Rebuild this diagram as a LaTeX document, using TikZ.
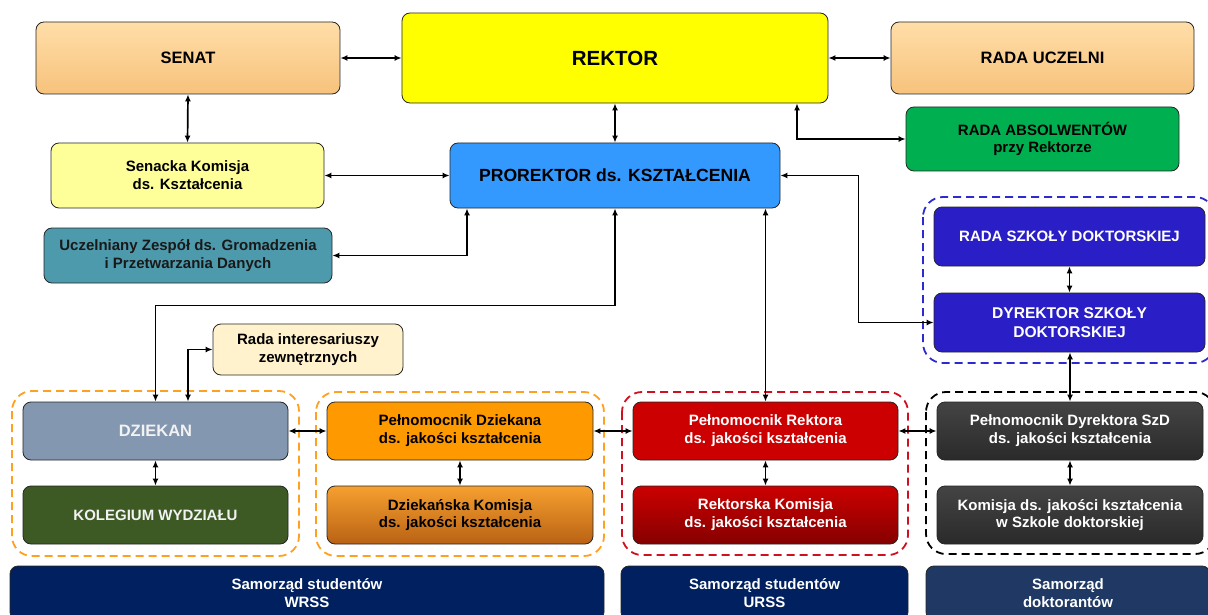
\documentclass[tikz,border=0pt]{standalone}
\usepackage{fontspec}
\setmainfont{Liberation Sans}
\usetikzlibrary{arrows.meta}
\definecolor{peachT}{HTML}{FFDEA8}
\definecolor{peachB}{HTML}{F7C27C}
\definecolor{rektorY}{HTML}{FFFF00}
\definecolor{senY}{HTML}{FFFF99}
\definecolor{tealC}{HTML}{4E9AAD}
\definecolor{proB}{HTML}{3399FF}
\definecolor{absG}{HTML}{00B050}
\definecolor{szdB}{HTML}{2A1FC6}
\definecolor{intC}{HTML}{FFF2CC}
\definecolor{dzkC}{HTML}{8497B0}
\definecolor{kolC}{HTML}{3D5A24}
\definecolor{pdzC}{HTML}{FF9900}
\definecolor{dkT}{HTML}{F6A030}
\definecolor{dkB}{HTML}{BA6214}
\definecolor{prC}{HTML}{CC0000}
\definecolor{rkB}{HTML}{850000}
\definecolor{blkT}{HTML}{444444}
\definecolor{blkB}{HTML}{2A2A2A}
\definecolor{navyC}{HTML}{002060}
\definecolor{navy2}{HTML}{1F3864}
\definecolor{grOr}{HTML}{FFA020}
\definecolor{grRd}{HTML}{D0101E}
\definecolor{grBl}{HTML}{2B2BD0}
\begin{document}
\begin{tikzpicture}[x=1pt,y=-1pt,
  box/.style={draw=black!85, line width=0.8pt, rounded corners=8pt, align=center,
    font=\bfseries\fontsize{15}{17.8}\selectfont, inner sep=2pt},
  conn/.style={line width=1.7pt, {Latex[length=7pt,width=6pt]}-{Latex[length=7pt,width=6pt]}},
  grp/.style={line width=1.8pt, rounded corners=20pt, dash pattern=on 8pt off 5pt},
]
\useasboundingbox (0,0) rectangle (1208,615);
\clip (0,0) rectangle (1208,615);

% top row
\node[box, top color=peachT, bottom color=peachB, minimum width=304pt, minimum height=72pt,
  font=\bfseries\fontsize{16.5}{19}\selectfont] (senat) at (188,58) {SENAT};
\node[box, fill=rektorY, minimum width=426pt, minimum height=90pt,
  font=\bfseries\fontsize{20.5}{24}\selectfont] (rektor) at (615,58) {REKTOR};
\node[box, top color=peachT, bottom color=peachB, minimum width=303pt, minimum height=72pt,
  font=\bfseries\fontsize{16.5}{19}\selectfont] (rada) at (1042.5,58) {RADA UCZELNI};

% second row
\node[box, fill=absG, minimum width=273pt, minimum height=64pt] (abs) at (1042.5,139)
  {RADA ABSOLWENTÓW\\przy Rektorze};
\node[box, fill=senY, minimum width=273pt, minimum height=65pt] (senk) at (187.5,175.5)
  {Senacka Komisja\\ds. Kształcenia};
\node[box, fill=proB, minimum width=330pt, minimum height=65pt,
  font=\bfseries\fontsize{17.6}{20}\selectfont] (pro) at (615,175.5) {PROREKTOR ds. KSZTAŁCENIA};
\node[box, fill=tealC, text=black!90, minimum width=288pt, minimum height=55pt] (ucz) at (188,255.5)
  {Uczelniany Zespół ds. Gromadzenia\\i Przetwarzania Danych};

% doctoral school
\draw[grp, grBl] (923,197) rectangle (1215,363);
\node[box, fill=szdB, text=white, minimum width=271pt, minimum height=59pt] (rszd) at (1069.5,236.5)
  {RADA SZKOŁY DOKTORSKIEJ};
\node[box, fill=szdB, text=white, minimum width=271pt, minimum height=59pt,
  font=\bfseries\fontsize{15.6}{19.5}\selectfont] (dszd) at (1069.5,322.5)
  {DYREKTOR SZKOŁY\\DOKTORSKIEJ};

\node[box, fill=intC, minimum width=190pt, minimum height=51pt] (rint) at (308,349.5)
  {Rada interesariuszy\\zewnętrznych};

% groups
\draw[grp, grOr] (12,391) rectangle (299,556);
\draw[grp, grOr] (316,392) rectangle (604,556);
\draw[grp, grRd] (622,392) rectangle (908,555);
\draw[grp, black] (926,392) rectangle (1215,554);

\node[box, fill=dzkC, text=white!95!black, minimum width=265pt, minimum height=58pt,
  font=\bfseries\fontsize{16.5}{19}\selectfont] (dzk) at (155.5,431) {DZIEKAN};
\node[box, fill=kolC, text=white!95!black, minimum width=265pt, minimum height=58pt] (kol) at (155.5,515)
  {KOLEGIUM WYDZIAŁU};
\node[box, fill=pdzC, minimum width=266pt, minimum height=58pt] (pdz) at (460,431)
  {Pełnomocnik Dziekana\\ds. jakości kształcenia};
\node[box, top color=dkT, bottom color=dkB, minimum width=266pt, minimum height=58pt] (dkom) at (460,515)
  {Dziekańska Komisja\\ds. jakości kształcenia};
\node[box, fill=prC, text=white, minimum width=265pt, minimum height=58pt] (prk) at (765.5,431)
  {Pełnomocnik Rektora\\ds. jakości kształcenia};
\node[box, top color=prC, bottom color=rkB, text=white, minimum width=265pt, minimum height=58pt] (rkom) at (765.5,515)
  {Rektorska Komisja\\ds. jakości kształcenia};
\node[box, top color=blkT, bottom color=blkB, text=white, minimum width=266pt, minimum height=58pt] (pdy) at (1070,431)
  {Pełnomocnik Dyrektora SzD\\ds. jakości kształcenia};
\node[box, top color=blkT, bottom color=blkB, text=white, minimum width=266pt, minimum height=58pt] (kszd) at (1070,515)
  {Komisja ds. jakości kształcenia\\w Szkole doktorskiej};

% bottom row
\node[box, fill=navyC, text=white, minimum width=594pt, minimum height=54pt] (wrss) at (307,593)
  {Samorząd studentów\\WRSS};
\node[box, fill=navyC, text=white, minimum width=287pt, minimum height=54pt] (urss) at (764.5,593)
  {Samorząd studentów\\URSS};
\node[box, fill=navy2, text=white, minimum width=284pt, minimum height=54pt] (sdok) at (1068,593)
  {Samorząd\\doktorantów};

% connectors
\draw[conn] (senat.east) -- (rektor.west |- senat.east);
\draw[conn] (rektor.east |- rada.west) -- (rada.west);
\draw[conn] (senat.south) -- (senk.north);
\draw[conn] (rektor.south) -- (pro.north);
\draw[conn] (senk.east) -- (pro.west);
\draw[conn] (abs.west) -| ([xshift=182pt]rektor.south);
\draw[conn] ([xshift=-148pt]pro.south) |- (ucz.east);
\draw[conn] (pro.east) -- ++(78,0) |- (dszd.west);
\draw[conn] (pro.south) -- ++(0,97) -| (dzk.north);
\draw[conn] (prk.north) -- (prk.north |- pro.south);
\draw[conn] ([xshift=32.5pt]dzk.north) |- (rint.west);
\draw[conn] (rszd.south) -- (dszd.north);
\draw[conn] (pdy.north |- dszd.south) -- (pdy.north);
\draw[conn] (dzk.east) -- (pdz.west);
\draw[conn] (pdz.east) -- (prk.west);
\draw[conn] (prk.east) -- (pdy.west);
\draw[conn] (dzk.south) -- (kol.north);
\draw[conn] (pdz.south) -- (dkom.north);
\draw[conn] (prk.south) -- (rkom.north);
\draw[conn] (pdy.south) -- (kszd.north);
\end{tikzpicture}
\end{document}
